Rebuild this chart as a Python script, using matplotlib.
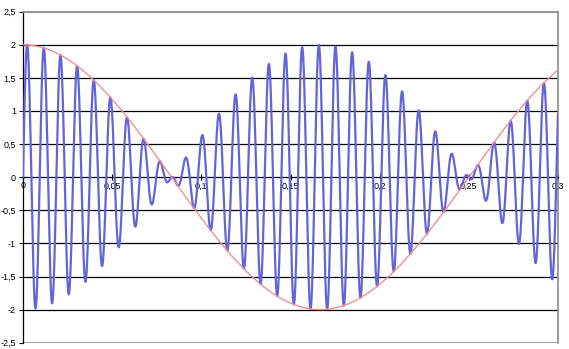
import numpy as np
import matplotlib.pyplot as plt

# two tones: 6 Hz beat around a ~107 Hz carrier
f1 = 110.
f2 = 104.
amp = 1.
t_end = 0.3
n_pts = 3001

x_ticks = [0, 0.05, 0.1, 0.15, 0.2, 0.25, 0.3]
x_labels = ['0', '0,05', '0,1', '0,15', '0,2', '0,25', '0,3']
y_ticks = [-2.5, -2, -1.5, -1, -0.5, 0, 0.5, 1, 1.5, 2, 2.5]
y_labels = ['-2,5', '-2', '-1,5', '-1', '-0,5', '0', '0,5', '1', '1,5', '2', '2,5']

t = np.linspace(0., t_end, n_pts)
signal = amp*np.sin(2*np.pi*f1*t) + amp*np.sin(2*np.pi*f2*t)
envelope = 2*amp*np.cos(np.pi*(f1-f2)*t)

plt.rcParams['font.family'] = ['Liberation Sans', 'DejaVu Sans']

fig = plt.figure(figsize=(5.69, 3.49), dpi=100)
ax1 = fig.add_axes([23/569, 1-342.7/349, (558-23)/569, (342.7-11.7)/349])

for yv in y_ticks:
    if abs(yv) == 2.5:
        ax1.axhline(yv, color='#8c8c8c', lw=1.2, zorder=1)
    elif yv != 0:
        ax1.axhline(yv, color='k', lw=0.9, zorder=1)

ax1.plot(t, signal, color='#6464da', lw=1.6, zorder=3)
ax1.plot(t, envelope, color='#f29090', lw=1.0, zorder=4)

ax1.set_xlim(0., t_end)
ax1.set_ylim(-2.5, 2.5)

ax1.spines['bottom'].set_position(('data', 0))
ax1.spines['bottom'].set_color('k')
ax1.spines['bottom'].set_linewidth(0.9)
ax1.spines['left'].set_color('k')
ax1.spines['left'].set_linewidth(0.9)
ax1.spines['top'].set_color('#8c8c8c')
ax1.spines['top'].set_linewidth(1.2)
ax1.spines['right'].set_color('#8c8c8c')
ax1.spines['right'].set_linewidth(1.2)

ax1.set_xticks(x_ticks)
ax1.set_xticklabels(x_labels)
ax1.set_yticks(y_ticks)
ax1.set_yticklabels(y_labels)
ax1.tick_params(axis='x', direction='inout', length=4, width=0.8, pad=1, labelsize=6.5)
ax1.tick_params(axis='y', direction='out', length=3, width=0.8, pad=2, labelsize=6.5)

plt.savefig('out.png', dpi=100)
